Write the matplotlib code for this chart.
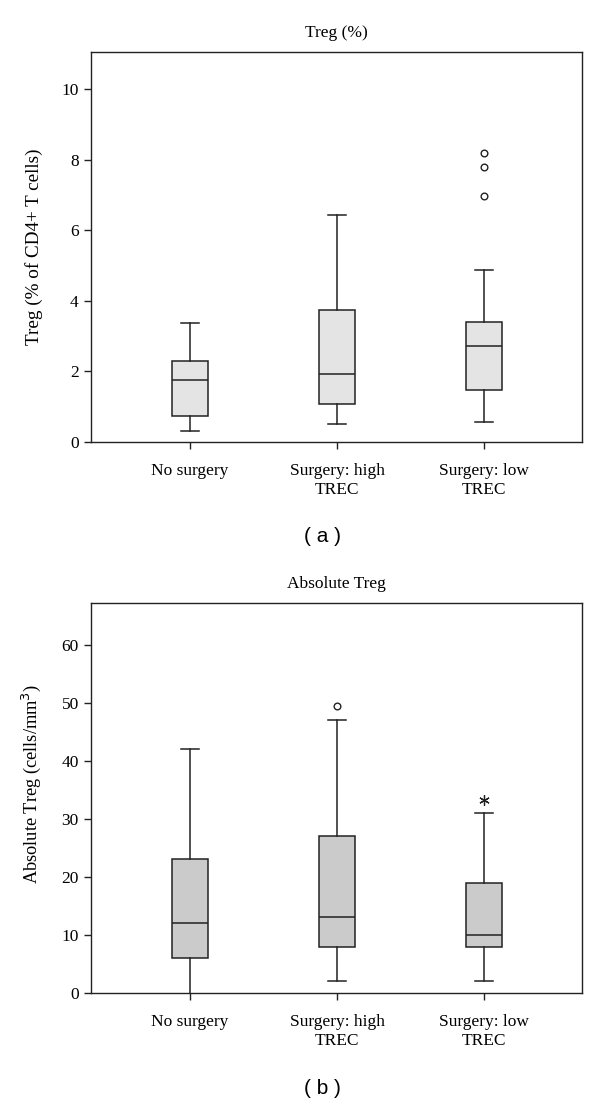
import matplotlib
matplotlib.use("Agg")
import matplotlib.pyplot as plt

# ---- data ----
categories = ["No surgery", "Surgery: high\nTREC", "Surgery: low\nTREC"]

# Panel (a): Treg (% of CD4+ T cells)
a_whislo = [0.32, 0.50, 0.58]
a_q1     = [0.74, 1.08, 1.48]
a_med    = [1.77, 1.94, 2.73]
a_q3     = [2.30, 3.73, 3.41]
a_whishi = [3.38, 6.42, 4.87]
a_outliers = [[], [], [6.97, 7.79, 8.18]]
a_yticks = [0, 2, 4, 6, 8, 10]

# Panel (b): Absolute Treg (cells/mm3)
b_whislo = [0.0, 2.0, 2.0]
b_q1     = [6.0, 8.0, 8.0]
b_med    = [12.0, 13.0, 10.0]
b_q3     = [23.0, 27.0, 19.0]
b_whishi = [42.0, 47.0, 31.0]
b_outliers = [[], [49.5], []]
b_extremes = [[], [], [33.2]]
b_yticks = [0, 10, 20, 30, 40, 50, 60]

serif = ["Liberation Serif", "DejaVu Serif"]
plt.rcParams["font.family"] = serif

fig = plt.figure(figsize=(6.0, 11.05), dpi=100)

positions = [1, 2, 3]


def make_stats(lo, q1, med, q3, hi, fl):
    return [dict(whislo=lo[i], q1=q1[i], med=med[i], q3=q3[i], whishi=hi[i],
                 fliers=fl[i], label="") for i in range(len(lo))]


def draw_panel(rect, stats, face, ylim, yticks, title, ylabel, extremes=None,
               hide_low_cap=None, ylabel_size=13.8, ylabel_coords=None):
    ax = fig.add_axes(rect)
    lw = 1.1
    res = ax.bxp(stats, positions=positions, widths=0.25, patch_artist=True,
                 showfliers=True,
                 boxprops=dict(facecolor=face, edgecolor="#222222", linewidth=lw),
                 medianprops=dict(color="#222222", linewidth=lw),
                 whiskerprops=dict(color="#222222", linewidth=lw),
                 capprops=dict(color="#222222", linewidth=lw),
                 capwidths=0.125,
                 flierprops=dict(marker="o", markersize=4.8, markerfacecolor="white",
                                 markeredgecolor="#222222", markeredgewidth=1.0,
                                 linestyle="none"))
    if hide_low_cap is not None:
        # the lower cap of that box is not drawn in the original
        res["caps"][2 * hide_low_cap].set_visible(False)
        res["whiskers"][2 * hide_low_cap].set_clip_on(False)
    if extremes is not None:
        for p, vals in zip(positions, extremes):
            if vals:
                ax.plot([p] * len(vals), vals, linestyle="none",
                        marker=(6, 2, 0), markersize=7.5, color="#222222",
                        markeredgewidth=0.9)
    ax.set_xlim(0.327, 3.667)
    ax.set_ylim(*ylim)
    ax.set_yticks(yticks)
    ax.set_xticks(positions)
    ax.set_xticklabels(categories, fontsize=12.5, linespacing=1.3)
    ax.tick_params(axis="both", direction="out", length=5, width=1.0,
                   color="#222222", labelsize=12.5, pad=4)
    ax.tick_params(axis="x", pad=10)
    for s in ax.spines.values():
        s.set_linewidth(1.0)
        s.set_color("#222222")
    ax.set_title(title, fontsize=12.5, pad=11)
    ax.set_ylabel(ylabel, fontsize=ylabel_size, labelpad=13)
    if ylabel_coords is not None:
        ax.yaxis.set_label_coords(*ylabel_coords)
    return ax


draw_panel([0.152, 0.600, 0.818, 0.353],
           make_stats(a_whislo, a_q1, a_med, a_q3, a_whishi, a_outliers),
           "#e4e4e4", (0, 11.05), a_yticks, "Treg (%)",
           "Treg (% of CD4+ T cells)")

draw_panel([0.152, 0.1014, 0.818, 0.353],
           make_stats(b_whislo, b_q1, b_med, b_q3, b_whishi, b_outliers),
           "#cbcbcb", (0, 67.2), b_yticks, "Absolute Treg",
           "Absolute Treg (cells/mm$^3$)", extremes=b_extremes,
           hide_low_cap=0, ylabel_size=13.2, ylabel_coords=(-0.098, 0.535))

fig.text(0.537, 1 - 537 / 1105, "( a )", ha="center", va="center",
         fontsize=15, family=["Liberation Sans", "DejaVu Sans"])
fig.text(0.537, 1 - 1088 / 1105, "( b )", ha="center", va="center",
         fontsize=15, family=["Liberation Sans", "DejaVu Sans"])

fig.savefig("out.png", dpi=100, facecolor="white")
